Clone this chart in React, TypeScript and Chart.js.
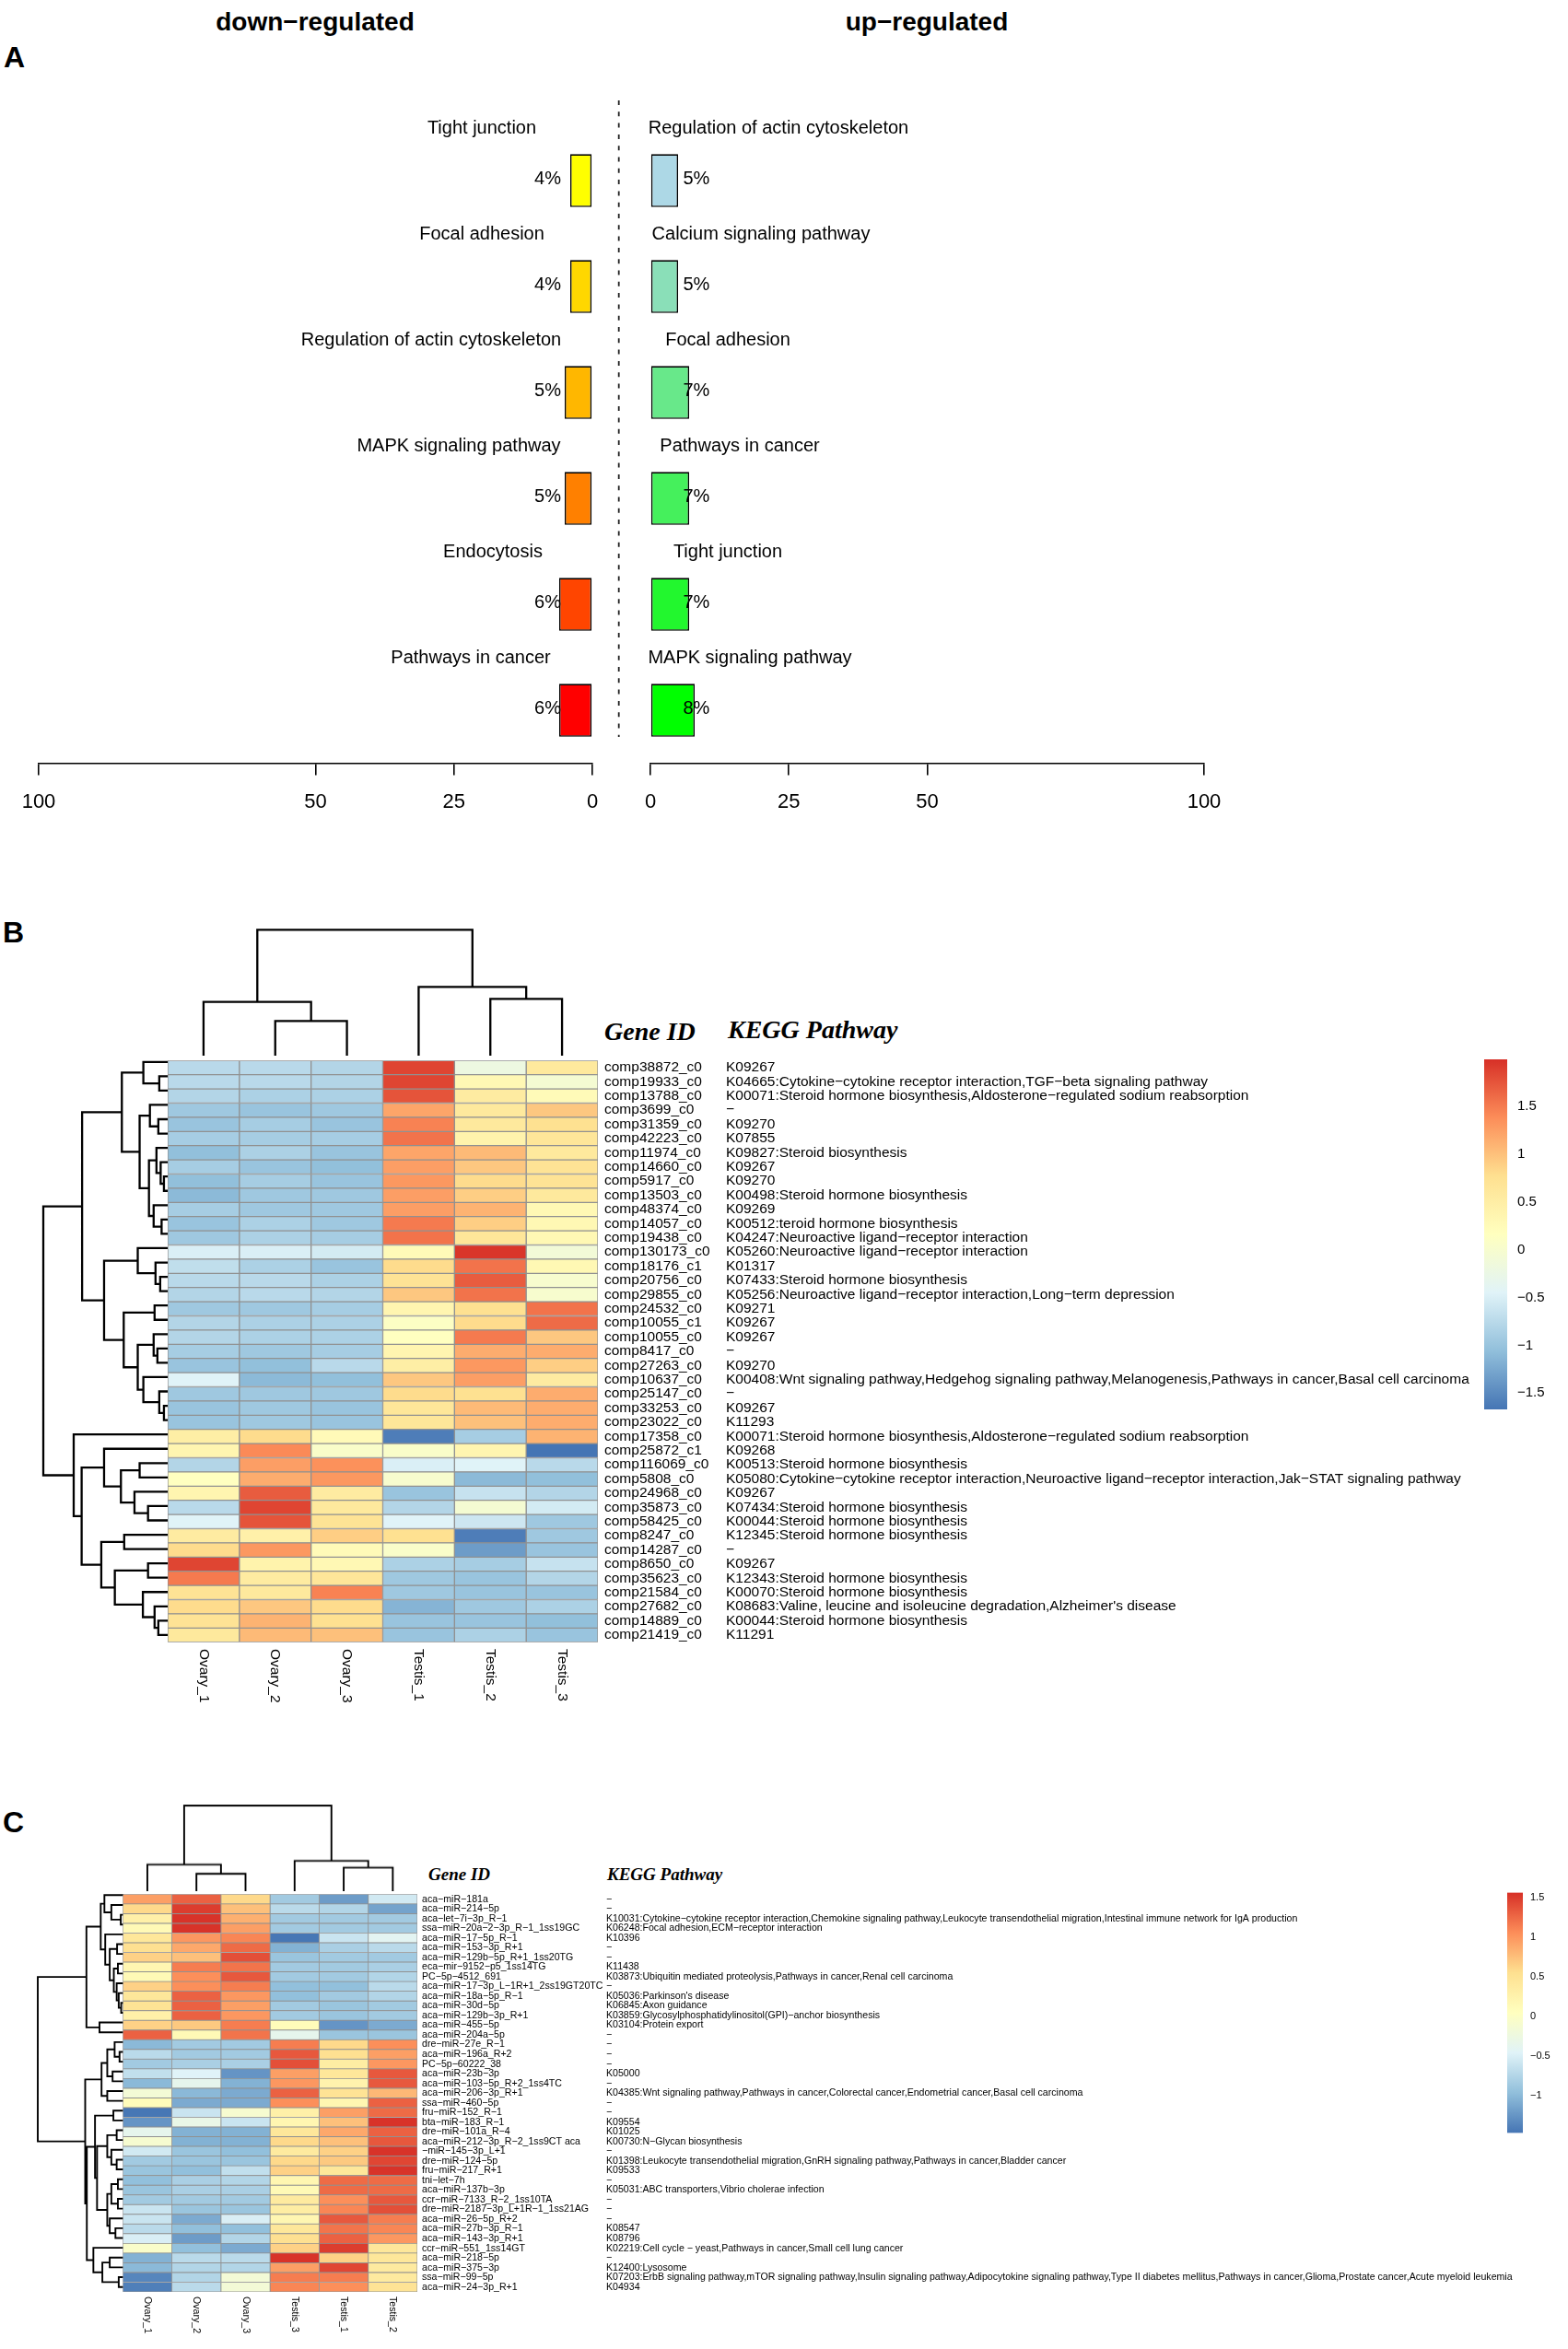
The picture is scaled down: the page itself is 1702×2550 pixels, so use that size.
import React, { useEffect, useRef } from "react";
import { Chart, registerables } from "chart.js";

Chart.register(...registerables);

const SANS = '"Liberation Sans", Arial, sans-serif';
const SERIF = '"Liberation Serif", "Times New Roman", serif';
const minus = (s: string) => s.replace(/-/g, "\u2212");

/* ---------- Panel A data ---------- */
const downTerms = ["Tight junction", "Focal adhesion", "Regulation of actin cytoskeleton", "MAPK signaling pathway", "Endocytosis", "Pathways in cancer"];
const downValues = [4, 4, 5, 5, 6, 6];
const downColors = ["#FFFF00", "#FFD700", "#FFB700", "#FF8000", "#FF4500", "#FF0000"];
const upTerms = ["Regulation of actin cytoskeleton", "Calcium signaling pathway", "Focal adhesion", "Pathways in cancer", "Tight junction", "MAPK signaling pathway"];
const upValues = [5, 5, 7, 7, 7, 8];
const upColors = ["#ADD8E6", "#8ADFB8", "#68E88A", "#45F05C", "#22F72E", "#00FF00"];
const pctTicks = [0, 25, 50, 100];

/* ---------- Panel B data ---------- */
const columnsB = ["Ovary_1", "Ovary_2", "Ovary_3", "Testis_1", "Testis_2", "Testis_3"];
const genesB = ["comp38872_c0", "comp19933_c0", "comp13788_c0", "comp3699_c0", "comp31359_c0", "comp42223_c0", "comp11974_c0", "comp14660_c0", "comp5917_c0", "comp13503_c0", "comp48374_c0", "comp14057_c0", "comp19438_c0", "comp130173_c0", "comp18176_c1", "comp20756_c0", "comp29855_c0", "comp24532_c0", "comp10055_c1", "comp10055_c0", "comp8417_c0", "comp27263_c0", "comp10637_c0", "comp25147_c0", "comp33253_c0", "comp23022_c0", "comp17358_c0", "comp25872_c1", "comp116069_c0", "comp5808_c0", "comp24968_c0", "comp35873_c0", "comp58425_c0", "comp8247_c0", "comp14287_c0", "comp8650_c0", "comp35623_c0", "comp21584_c0", "comp27682_c0", "comp14889_c0", "comp21419_c0"];
const keggB = [
  "K09267",
  "K04665:Cytokine-cytokine receptor interaction,TGF-beta signaling pathway",
  "K00071:Steroid hormone biosynthesis,Aldosterone-regulated sodium reabsorption",
  "-",
  "K09270",
  "K07855",
  "K09827:Steroid biosynthesis",
  "K09267",
  "K09270",
  "K00498:Steroid hormone biosynthesis",
  "K09269",
  "K00512:teroid hormone biosynthesis",
  "K04247:Neuroactive ligand-receptor interaction",
  "K05260:Neuroactive ligand-receptor interaction",
  "K01317",
  "K07433:Steroid hormone biosynthesis",
  "K05256:Neuroactive ligand-receptor interaction,Long-term depression",
  "K09271",
  "K09267",
  "K09267",
  "-",
  "K09270",
  "K00408:Wnt signaling pathway,Hedgehog signaling pathway,Melanogenesis,Pathways in cancer,Basal cell carcinoma",
  "-",
  "K09267",
  "K11293",
  "K00071:Steroid hormone biosynthesis,Aldosterone-regulated sodium reabsorption",
  "K09268",
  "K00513:Steroid hormone biosynthesis",
  "K05080:Cytokine-cytokine receptor interaction,Neuroactive ligand-receptor interaction,Jak-STAT signaling pathway",
  "K09267",
  "K07434:Steroid hormone biosynthesis",
  "K00044:Steroid hormone biosynthesis",
  "K12345:Steroid hormone biosynthesis",
  "-",
  "K09267",
  "K12343:Steroid hormone biosynthesis",
  "K00070:Steroid hormone biosynthesis",
  "K08683:Valine, leucine and isoleucine degradation,Alzheimer's disease",
  "K00044:Steroid hormone biosynthesis",
  "K11291",
];
const valuesB = [
  [-0.75, -0.75, -0.8, 1.85, -0.2, 0.6],
  [-0.75, -0.75, -0.8, 1.85, 0.3, -0.05],
  [-0.8, -0.85, -0.85, 1.75, 0.55, 0.25],
  [-0.95, -1.0, -0.95, 1.2, 0.6, 0.95],
  [-1.0, -0.9, -1.0, 1.45, 0.6, 0.75],
  [-0.9, -0.9, -0.9, 1.55, 0.4, 0.65],
  [-1.05, -0.85, -1.0, 1.2, 1.05, 0.6],
  [-0.9, -1.0, -1.05, 1.25, 0.95, 0.7],
  [-1.05, -0.9, -1.0, 1.3, 0.8, 0.7],
  [-1.1, -0.95, -0.95, 1.25, 0.9, 0.6],
  [-0.9, -0.95, -0.95, 1.25, 1.1, 0.3],
  [-1.0, -0.85, -0.95, 1.5, 0.9, 0.3],
  [-0.95, -0.85, -0.9, 1.55, 0.65, 0.3],
  [-0.5, -0.5, -0.55, 0.25, 1.95, -0.1],
  [-0.7, -0.85, -1.0, 0.8, 1.55, 0.3],
  [-0.75, -0.75, -0.85, 0.7, 1.7, 0.0],
  [-0.8, -0.75, -0.8, 0.95, 1.55, 0.0],
  [-0.95, -0.95, -0.9, 0.35, 0.75, 1.55],
  [-0.8, -0.85, -0.85, 0.1, 0.8, 1.6],
  [-0.8, -0.85, -0.85, 0.15, 1.5, 0.95],
  [-0.9, -0.95, -0.9, 0.35, 1.15, 1.15],
  [-1.0, -1.05, -0.75, 0.5, 1.3, 0.9],
  [-0.45, -1.1, -1.05, 0.95, 1.25, 0.55],
  [-0.95, -0.95, -0.95, 0.8, 0.75, 1.15],
  [-1.0, -0.95, -1.0, 0.65, 1.05, 1.15],
  [-1.0, -0.95, -1.0, 0.65, 1.0, 1.15],
  [0.5, 0.8, 0.25, -1.6, -0.9, 1.1],
  [0.35, 1.4, 0.05, 0.05, 0.35, -1.67],
  [-0.8, 1.25, 1.35, -0.5, -0.45, -0.75],
  [0.15, 1.15, 1.3, 0.0, -1.1, -1.05],
  [0.35, 1.7, 0.55, -1.0, -0.65, -0.8],
  [-0.75, 1.85, 0.6, -0.8, -0.05, -0.55],
  [-0.45, 1.75, 0.7, -0.45, -0.6, -0.95],
  [0.55, 0.45, 0.9, 0.75, -1.6, -0.95],
  [0.8, 1.3, 0.25, 0.05, -1.35, -1.0],
  [1.85, 0.4, 0.3, -0.85, -0.9, -0.65],
  [1.5, 0.55, 0.65, -0.95, -1.0, -0.8],
  [0.7, 0.6, 1.45, -0.95, -1.0, -1.0],
  [0.8, 0.95, 0.8, -1.15, -0.95, -0.85],
  [0.7, 1.1, 0.75, -1.0, -1.0, -1.05],
  [0.6, 1.05, 1.0, -1.0, -0.85, -1.0],
];
type Tree = number | [number, Tree, Tree];
const colTreeB: Tree = [135.7, [57.3, 1, [36.7, 2, 3]], [73.7, 4, [60.7, 5, 6]]];
const rowTreeB: Tree = [266,
  [183,
    [98,
      [52, 1, [18, 2, 3]],
      [60,
        [38, 4, [20, 5, 6]],
        [40,
          [24, 7, [15, 8, [8, 9, 10]]],
          [30, 11, [13, 12, 13]]]]],
    [136,
      [64, 14, [26, 15, [16, 16, 17]]],
      [94,
        [28, 18, 19],
        [64,
          [30, 20, [22, 21, 22]],
          [52, 23, [18, 24, [8, 25, 26]]]]]]],
  [201, 27,
    [184,
      [136, 28,
        [100,
          [60, 29, 30],
          [71, 31, [42, 32, 33]]]],
      [142,
        [93, 34, 35],
        [113,
          [42, 36, 37],
          [53, 38, [28, 39, [20, 40, 41]]]]]]]];
const legendTicksB = [-1.5, -1, -0.5, 0, 0.5, 1, 1.5];
const rangeB: [number, number] = [-1.67, 1.987];

/* ---------- Panel C data ---------- */
const columnsC = ["Ovary_1", "Ovary_2", "Ovary_3", "Testis_3", "Testis_1", "Testis_2"];
const genesC = ["aca-miR-181a", "aca-miR-214-5p", "aca-let-7i-3p_R-1", "ssa-miR-20a-2-3p_R-1_1ss19GC", "aca-miR-17-5p_R-1", "aca-miR-153-3p_R+1", "aca-miR-129b-5p_R+1_1ss20TG", "eca-mir-9152-p5_1ss14TG", "PC-5p-4512_691", "aca-miR-17-3p_L-1R+1_2ss19GT20TC", "aca-miR-18a-5p_R-1", "aca-miR-30d-5p", "aca-miR-129b-3p_R+1", "aca-miR-455-5p", "aca-miR-204a-5p", "dre-miR-27e_R-1", "aca-miR-196a_R+2", "PC-5p-60222_38", "aca-miR-23b-3p", "aca-miR-103-5p_R+2_1ss4TC", "aca-miR-206-3p_R+1", "ssa-miR-460-5p", "fru-miR-152_R-1", "bta-miR-183_R-1", "dre-miR-101a_R-4", "aca-miR-212-3p_R-2_1ss9CT aca", "-miR-145-3p_L+1", "dre-miR-124-5p", "fru-miR-217_R+1", "tni-let-7h", "aca-miR-137b-3p", "ccr-miR-7133_R-2_1ss10TA", "dre-miR-2187-3p_L+1R-1_1ss21AG", "aca-miR-26-5p_R+2", "aca-miR-27b-3p_R-1", "aca-miR-143-3p_R+1", "ccr-miR-551_1ss14GT", "aca-miR-218-5p", "aca-miR-375-3p", "ssa-miR-99-5p", "aca-miR-24-3p_R+1"];
const keggC = [
  "-",
  "-",
  "K10031:Cytokine-cytokine receptor interaction,Chemokine signaling pathway,Leukocyte transendothelial migration,Intestinal immune network for IgA production",
  "K06248:Focal adhesion,ECM-receptor interaction",
  "K10396",
  "-",
  "-",
  "K11438",
  "K03873:Ubiquitin mediated proteolysis,Pathways in cancer,Renal cell carcinoma",
  "-",
  "K05036:Parkinson's disease",
  "K06845:Axon guidance",
  "K03859:Glycosylphosphatidylinositol(GPI)-anchor biosynthesis",
  "K03104:Protein export",
  "-",
  "-",
  "-",
  "-",
  "K05000",
  "-",
  "K04385:Wnt signaling pathway,Pathways in cancer,Colorectal cancer,Endometrial cancer,Basal cell carcinoma",
  "-",
  "-",
  "K09554",
  "K01025",
  "K00730:N-Glycan biosynthesis",
  "-",
  "K01398:Leukocyte transendothelial migration,GnRH signaling pathway,Pathways in cancer,Bladder cancer",
  "K09533",
  "-",
  "K05031:ABC transporters,Vibrio cholerae infection",
  "-",
  "-",
  "-",
  "K08547",
  "K08796",
  "K02219:Cell cycle - yeast,Pathways in cancer,Small cell lung cancer",
  "-",
  "K12400:Lysosome",
  "K07203:ErbB signaling pathway,mTOR signaling pathway,Insulin signaling pathway,Adipocytokine signaling pathway,Type II diabetes mellitus,Pathways in cancer,Glioma,Prostate cancer,Acute myeloid leukemia",
  "K04934",
];
const valuesC = [
  [0.95, 1.3, 0.6, -0.85, -1.2, -0.55],
  [0.6, 1.5, 0.75, -0.7, -0.75, -1.15],
  [0.3, 1.55, 0.85, -0.85, -0.85, -0.85],
  [0.15, 1.55, 0.95, -0.85, -0.85, -0.85],
  [0.45, 1.0, 1.1, -1.45, -0.6, -0.4],
  [0.55, 0.9, 1.25, -1.05, -0.8, -0.7],
  [0.65, 0.75, 1.4, -0.9, -0.85, -0.85],
  [0.2, 1.15, 1.2, -0.85, -0.85, -0.8],
  [0.15, 1.05, 1.35, -0.85, -0.85, -0.75],
  [0.65, 1.05, 1.15, -0.95, -0.95, -0.7],
  [0.45, 1.3, 1.0, -0.95, -0.85, -0.75],
  [0.5, 1.3, 0.95, -0.85, -0.9, -0.85],
  [0.3, 1.3, 1.0, -0.85, -0.9, -0.85],
  [0.65, 0.7, 1.15, 0.1, -1.25, -1.1],
  [1.3, 0.15, 1.2, -0.35, -0.9, -0.9],
  [-1.0, -0.85, -0.85, 1.15, 0.6, 1.05],
  [-0.7, -0.85, -0.85, 1.35, 0.55, 0.95],
  [-0.85, -0.8, -0.8, 1.4, 0.35, 1.0],
  [-0.65, -0.45, -1.25, 0.95, 0.45, 1.35],
  [-1.0, -0.35, -1.05, 1.0, 0.25, 1.35],
  [-0.15, -1.0, -1.1, 1.3, 0.5, 0.8],
  [0.1, -1.1, -1.1, 1.05, 0.2, 1.3],
  [-1.45, -0.6, -0.1, 0.3, 0.95, 1.25],
  [-1.25, -0.3, -0.6, 0.2, 0.75, 1.55],
  [-0.35, -1.05, -1.05, 0.45, 0.9, 1.3],
  [-0.1, -1.05, -1.05, 0.6, 0.75, 1.35],
  [-0.55, -0.9, -0.95, 0.4, 0.65, 1.55],
  [-0.85, -0.9, -0.9, 0.6, 0.7, 1.45],
  [-0.9, -0.95, -0.65, 0.65, 0.45, 1.55],
  [-0.95, -0.8, -0.75, 0.2, 1.25, 1.25],
  [-0.9, -0.8, -0.8, 0.15, 1.25, 1.25],
  [-0.85, -0.85, -0.85, 0.4, 1.05, 1.35],
  [-0.6, -0.9, -0.9, 0.35, 1.1, 1.4],
  [-0.6, -1.1, -0.5, 0.2, 1.35, 1.15],
  [-0.7, -0.95, -0.95, 0.45, 1.2, 1.1],
  [-0.5, -1.2, -0.75, 0.55, 1.3, 1.0],
  [-0.05, -0.95, -1.1, 0.65, 1.5, 0.45],
  [-1.05, -0.7, -0.7, 1.55, 0.65, 0.45],
  [-1.0, -0.75, -0.75, 0.95, 1.45, 0.4],
  [-1.35, -0.75, -0.15, 1.15, 1.15, 0.4],
  [-1.4, -0.7, -0.15, 1.1, 1.05, 0.5],
];
const colTreeC: Tree = [92, [28.3, 1, [18.3, 2, 3]], [32.3, 4, [25, 5, 6]]];
const rowTreeC: Tree = [208,
  [89,
    [54,
      [45, 1, [28, 2, [5, 3, 4]]],
      [43, 5,
        [32,
          [14, 6, 7],
          [22,
            [12, 8, 9],
            [15, 10, [10, 11, [4, 12, 13]]]]]]],
    [57, 14, 15]],
  [92,
    [52,
      [38,
        [20, 16, [8, 17, 18]],
        [25, 19, 20]],
      [38, 21, 22]],
    [88,
      [68,
        [23, 23, 24],
        [63,
          [38,
            [15, 25, 26],
            [28, 27, [15, 28, 29]]],
          [38,
            [28, [12, 30, 31], [12, 32, 33]],
            [32, 34, [18, 35, 36]]]]],
      [72, 37,
        [50,
          [32, 38, 39],
          [10, 40, 41]]]]]];
const legendTicksC = [-1, -0.5, 0, 0.5, 1, 1.5];
const rangeC: [number, number] = [-1.465, 1.568];

/* ---------- Colour scale (RdYlBu, reversed) ---------- */
const palette = ["#4575B4", "#91BFDB", "#E0F3F8", "#FFFFBF", "#FEE090", "#FC8D59", "#D73027"];
const hexRgb = (h: string) => [1, 3, 5].map((i) => parseInt(h.slice(i, i + 2), 16));
function heatColor(z: number, [lo, hi]: [number, number]) {
  const t = Math.min(0.9999, Math.max(0, (z - lo) / (hi - lo))) * (palette.length - 1);
  const i = Math.floor(t);
  const a = hexRgb(palette[i]);
  const b = hexRgb(palette[i + 1]);
  const c = a.map((v, k) => Math.round(v + (b[k] - v) * (t - i)));
  return `rgb(${c[0]},${c[1]},${c[2]})`;
}

/* ---------- Layout helpers ---------- */
type Box = { x: number; y: number; w: number; h: number };
type Area = { l: number; r: number; t: number; b: number };
const padOf = (box: Box, a: Area) => ({ left: a.l - box.x, top: a.t - box.y, right: box.x + box.w - a.r, bottom: box.y + box.h - a.b });
const base = {
  responsive: false,
  maintainAspectRatio: false,
  animation: false as const,
  devicePixelRatio: 1,
  events: [] as string[],
};
const noPlugins = { legend: { display: false }, tooltip: { enabled: false }, title: { display: false } };

function Plot({ box, make }: { box: Box; make: () => any }) {
  const ref = useRef<HTMLCanvasElement | null>(null);
  useEffect(() => {
    const chart = new Chart(ref.current as HTMLCanvasElement, make());
    return () => chart.destroy();
  }, []);
  return <canvas ref={ref} width={box.w} height={box.h} style={{ position: "absolute", left: box.x, top: box.y, width: box.w, height: box.h, display: "block" }} />;
}

function Caption({ text, x, cy, size, family, bold, italic, center }: { text: string; x: number; cy: number; size: number; family: string; bold?: boolean; italic?: boolean; center?: boolean }) {
  return (
    <div style={{ position: "absolute", left: x, top: cy - size, lineHeight: `${size * 2}px`, fontSize: size, fontFamily: family, fontWeight: bold ? "bold" : "normal", fontStyle: italic ? "italic" : "normal", whiteSpace: "nowrap", color: "#000", transform: center ? "translateX(-50%)" : undefined }}>
      {text}
    </div>
  );
}

/* ---------- Panel A ---------- */
const AXIS_AREA = { t: 138.6, b: 828.6 };
const AXIS_BLOCK = 71.4;
const downLabelCenters = [523, 523, 468, 498, 535, 511];
const upLabelCenters = [845, 826, 790, 803, 790, 814];

function barConfig(box: Box, area: Area, terms: string[], values: number[], colors: string[], reverse: boolean, centers: number[], pctX: number, dashed: boolean) {
  return () => ({
    type: "bar",
    data: {
      labels: terms,
      datasets: [{ data: values, backgroundColor: colors, borderColor: "#000", borderWidth: 1.6, borderSkipped: false, barPercentage: 0.5, categoryPercentage: 1 }],
    },
    options: {
      ...base,
      indexAxis: "y",
      layout: { padding: { ...padOf(box, area), bottom: 0 } },
      plugins: noPlugins,
      scales: {
        y: { display: false, type: "category" },
        x: {
          type: "linear",
          min: 0,
          max: 100,
          reverse,
          position: "bottom",
          afterFit: (s: any) => { s.height = AXIS_BLOCK; },
          afterBuildTicks: (s: any) => { s.ticks = pctTicks.map((value) => ({ value })); },
          grid: { drawOnChartArea: false, drawTicks: true, tickLength: 13, color: "#000", lineWidth: 1.6 },
          border: { display: true, color: "#000", width: 1.6 },
          ticks: { autoSkip: false, maxRotation: 0, color: "#000", padding: 16, font: { family: SANS, size: 22 }, callback: (v: any) => String(v) },
        },
      },
    },
    plugins: [{
      id: "barText",
      afterDatasetsDraw(chart: any) {
        const { ctx, scales } = chart;
        ctx.save();
        ctx.fillStyle = "#000";
        ctx.font = `20px ${SANS}`;
        ctx.textBaseline = "middle";
        terms.forEach((term, i) => {
          const cy = scales.y.getPixelForValue(i);
          ctx.textAlign = "center";
          ctx.fillText(term, centers[i] - box.x, cy - 57);
          ctx.textAlign = reverse ? "right" : "left";
          ctx.fillText(`${values[i]}%`, pctX - box.x, cy - 2);
        });
        if (dashed) {
          const x = scales.x.getPixelForValue(0) + 28.7;
          ctx.strokeStyle = "#222";
          ctx.lineWidth = 1.8;
          ctx.setLineDash([5, 7.3]);
          ctx.beginPath();
          ctx.moveTo(x, 109 - box.y);
          ctx.lineTo(x, 800 - box.y);
          ctx.stroke();
        }
        ctx.restore();
      },
    }],
  });
}

/* ---------- Heatmaps ---------- */
function heatConfig(box: Box, area: Area, columns: string[], genes: string[], kegg: string[], values: number[][], range: [number, number], font: number, geneX: number, keggX: number, colTop: number, borderW: number) {
  return () => ({
    type: "bar",
    data: {
      labels: genes.map(minus),
      datasets: columns.map((_, c) => ({
        data: values.map(() => [c, c + 1]),
        backgroundColor: values.map((row) => heatColor(row[c], range)),
        borderColor: "#919191",
        borderWidth: borderW,
        borderSkipped: false,
        barPercentage: 1,
        categoryPercentage: 1,
        grouped: false,
        yAxisID: "y",
        xAxisID: "x",
      })),
    },
    options: {
      ...base,
      indexAxis: "y",
      layout: { padding: { left: area.l - box.x, top: area.t - box.y, bottom: box.y + box.h - area.b, right: 0 } },
      plugins: noPlugins,
      scales: {
        x: { type: "linear", min: 0, max: columns.length, display: false },
        y: {
          type: "category",
          position: "right",
          weight: 0,
          labels: genes.map(minus),
          offset: true,
          afterFit: (s: any) => { s.width = keggX - area.r; },
          grid: { display: false, drawTicks: false },
          border: { display: false },
          ticks: { autoSkip: false, color: "#000", padding: geneX - area.r, crossAlign: "near", font: { family: SANS, size: font } },
        },
        yK: {
          type: "category",
          position: "right",
          weight: 1,
          labels: kegg.map(minus),
          offset: true,
          afterFit: (s: any) => { s.width = box.x + box.w - keggX; },
          grid: { display: false, drawTicks: false },
          border: { display: false },
          ticks: { autoSkip: false, color: "#000", padding: 0, crossAlign: "near", font: { family: SANS, size: font } },
        },
      },
    },
    plugins: [{
      id: "columnText",
      afterDatasetsDraw(chart: any) {
        const { ctx, scales } = chart;
        ctx.save();
        ctx.fillStyle = "#000";
        ctx.font = `${font}px ${SANS}`;
        ctx.textAlign = "left";
        ctx.textBaseline = "middle";
        columns.forEach((label, c) => {
          ctx.save();
          ctx.translate(scales.x.getPixelForValue(c + 0.5), colTop - box.y);
          ctx.rotate(Math.PI / 2);
          ctx.fillText(label, 0, 0);
          ctx.restore();
        });
        ctx.restore();
      },
    }],
  });
}

function treeSegments(tree: Tree) {
  const out: { pos: number; h: number }[] = [];
  const walk = (node: Tree): { pos: number; h: number } => {
    if (typeof node === "number") return { pos: node - 0.5, h: 0 };
    const [h, l, r] = node;
    const a = walk(l);
    const b = walk(r);
    out.push({ pos: a.pos, h: a.h }, { pos: a.pos, h }, { pos: b.pos, h }, { pos: b.pos, h: b.h }, { pos: NaN, h: NaN });
    return { pos: (a.pos + b.pos) / 2, h };
  };
  walk(tree);
  return out;
}

function dendroConfig(box: Box, area: Area, tree: Tree, leafCount: number, horizontal: boolean, width: number) {
  return () => {
    const segs = treeSegments(tree);
    const maxH = (tree as [number, Tree, Tree])[0];
    return {
      type: "scatter",
      data: {
        datasets: [{
          data: segs.map((s) => (horizontal ? { x: s.h, y: s.pos } : { x: s.pos, y: s.h })),
          showLine: true,
          spanGaps: false,
          borderColor: "#000",
          borderWidth: width,
          borderCapStyle: "square",
          borderJoinStyle: "miter",
          pointRadius: 0,
          tension: 0,
          clip: false,
        }],
      },
      options: {
        ...base,
        layout: { padding: padOf(box, area) },
        plugins: noPlugins,
        scales: horizontal
          ? { x: { type: "linear", min: 0, max: maxH, reverse: true, display: false }, y: { type: "linear", min: 0, max: leafCount, reverse: true, display: false } }
          : { x: { type: "linear", min: 0, max: leafCount, display: false }, y: { type: "linear", min: 0, max: maxH, display: false } },
      },
    };
  };
}

function legendConfig(box: Box, area: Area, range: [number, number], tickVals: number[], font: number, gap: number) {
  return () => ({
    type: "bar",
    data: {
      labels: ["z"],
      datasets: [{
        data: [range],
        borderWidth: 0,
        borderSkipped: false,
        barPercentage: 1,
        categoryPercentage: 1,
        backgroundColor: (ctx: any) => {
          const ca = ctx.chart.chartArea;
          if (!ca) return palette[3];
          const g = ctx.chart.ctx.createLinearGradient(0, ca.bottom, 0, ca.top);
          palette.forEach((p, i) => g.addColorStop(i / (palette.length - 1), p));
          return g;
        },
      }],
    },
    options: {
      ...base,
      layout: { padding: { left: area.l - box.x, top: area.t - box.y, bottom: box.y + box.h - area.b, right: 0 } },
      plugins: noPlugins,
      scales: {
        x: { type: "category", display: false },
        y: {
          type: "linear",
          position: "right",
          min: range[0],
          max: range[1],
          afterFit: (s: any) => { s.width = box.x + box.w - area.r; },
          afterBuildTicks: (s: any) => { s.ticks = tickVals.map((value) => ({ value })); },
          grid: { display: false, drawTicks: false },
          border: { display: false },
          ticks: { autoSkip: false, color: "#000", padding: gap, crossAlign: "near", font: { family: SANS, size: font }, callback: (v: any) => minus(String(v)) },
        },
      },
    },
  });
}

/* ---------- Page ---------- */
const boxAL: Box = { x: 0, y: 100, w: 690, h: 800 };
const boxAR: Box = { x: 640, y: 100, w: 720, h: 800 };
const areaAL: Area = { l: 42, r: 643, ...AXIS_AREA };
const areaAR: Area = { l: 706, r: 1307, ...AXIS_AREA };

const areaHB: Area = { l: 182, r: 649, t: 1145, b: 1782.7 };
const boxHB: Box = { x: 170, y: 1135, w: 1532, h: 725 };
const areaDRB: Area = { l: 47, r: 182, t: 1145, b: 1782.7 };
const boxDRB: Box = { x: 40, y: 1135, w: 143, h: 660 };
const areaDCB: Area = { l: 182, r: 649, t: 1009.3, b: 1145 };
const boxDCB: Box = { x: 175, y: 1000, w: 480, h: 146 };
const areaLB: Area = { l: 1611, r: 1636, t: 1145.5, b: 1533 };
const boxLB: Box = { x: 1605, y: 1130, w: 97, h: 420 };

const areaHC: Area = { l: 133.3, r: 453, t: 2052, b: 2488 };
const boxHC: Box = { x: 125, y: 2045, w: 1577, h: 500 };
const areaDRC: Area = { l: 41, r: 133.3, t: 2052, b: 2488 };
const boxDRC: Box = { x: 35, y: 2045, w: 100, h: 450 };
const areaDCC: Area = { l: 133.3, r: 453, t: 1960, b: 2052 };
const boxDCC: Box = { x: 128, y: 1952, w: 330, h: 100.5 };
const areaLC: Area = { l: 1636, r: 1653, t: 2052, b: 2317.7 };
const boxLC: Box = { x: 1630, y: 2040, w: 72, h: 290 };

export default function App() {
  return (
    <div style={{ position: "absolute", left: 0, top: 0, width: 1702, height: 2550, background: "#fff", overflow: "hidden" }}>
      <Caption text={minus("down-regulated")} x={342} cy={24} size={28} family={SANS} bold center />
      <Caption text={minus("up-regulated")} x={1006} cy={24} size={28} family={SANS} bold center />
      <Caption text="A" x={4} cy={62} size={32} family={SANS} bold />
      <Caption text="B" x={3} cy={1012} size={32} family={SANS} bold />
      <Caption text="C" x={3} cy={1978} size={32} family={SANS} bold />

      <Plot box={boxAL} make={barConfig(boxAL, areaAL, downTerms, downValues, downColors, true, downLabelCenters, 609, true)} />
      <Plot box={boxAR} make={barConfig(boxAR, areaAR, upTerms, upValues, upColors, false, upLabelCenters, 741.5, false)} />

      <Caption text="Gene ID" x={656} cy={1120} size={28} family={SERIF} bold italic />
      <Caption text="KEGG Pathway" x={790} cy={1118} size={28} family={SERIF} bold italic />
      <Plot box={boxDCB} make={dendroConfig(boxDCB, areaDCB, colTreeB, 6, false, 2.3)} />
      <Plot box={boxDRB} make={dendroConfig(boxDRB, areaDRB, rowTreeB, 41, true, 2.3)} />
      <Plot box={boxHB} make={heatConfig(boxHB, areaHB, columnsB, genesB, keggB, valuesB, rangeB, 15.5, 656, 788, 1790, 1)} />
      <Plot box={boxLB} make={legendConfig(boxLB, areaLB, rangeB, legendTicksB, 15, 11)} />

      <Caption text="Gene ID" x={465} cy={2035} size={19} family={SERIF} bold italic />
      <Caption text="KEGG Pathway" x={659} cy={2035} size={19} family={SERIF} bold italic />
      <Plot box={boxDCC} make={dendroConfig(boxDCC, areaDCC, colTreeC, 6, false, 1.9)} />
      <Plot box={boxDRC} make={dendroConfig(boxDRC, areaDRC, rowTreeC, 41, true, 1.9)} />
      <Plot box={boxHC} make={heatConfig(boxHC, areaHC, columnsC, genesC, keggC, valuesC, rangeC, 10.6, 458, 658, 2493, 0.8)} />
      <Plot box={boxLC} make={legendConfig(boxLC, areaLC, rangeC, legendTicksC, 11, 8)} />
    </div>
  );
}
